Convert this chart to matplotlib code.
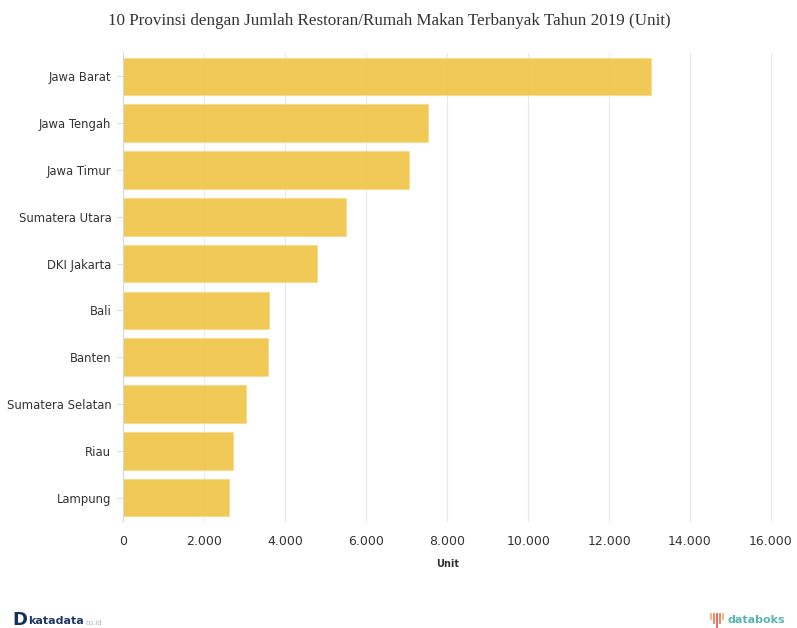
import matplotlib
matplotlib.use("Agg")
import matplotlib.pyplot as plt
from matplotlib.lines import Line2D

provinsi = ["Jawa Barat", "Jawa Tengah", "Jawa Timur", "Sumatera Utara", "DKI Jakarta",
            "Bali", "Banten", "Sumatera Selatan", "Riau", "Lampung"]
jumlah = [13030, 7530, 7060, 5510, 4790, 3610, 3580, 3020, 2720, 2600]
xticks = [0, 2000, 4000, 6000, 8000, 10000, 12000, 14000, 16000]
xlabels = ["0", "2.000", "4.000", "6.000", "8.000", "10.000", "12.000", "14.000", "16.000"]

W, H = 797, 628
fig = plt.figure(figsize=(W / 100, H / 100), dpi=100)
ax = fig.add_axes([123.3 / W, 1 - 521 / H, (771 - 123.3) / W, (521 - 53) / H])

ax.set_axisbelow(True)
ax.barh(range(len(provinsi)), jumlah, height=0.8, color="#f0c445", alpha=0.9,
        edgecolor="#f7dc8e", linewidth=0.8)
ax.set_xlim(0, 16000)
ax.set_ylim(len(provinsi) - 0.5, -0.5)

ax.set_yticks(range(len(provinsi)))
ax.set_yticklabels(provinsi, fontsize=8.4, color="#333333")
ax.set_xticks(xticks)
ax.set_xticklabels(xlabels, fontsize=9, color="#333333")
ax.tick_params(axis="y", length=4.3, width=0.8, color="#dddddd", pad=4.3)
ax.tick_params(axis="x", length=0, pad=10)
ax.grid(axis="x", color="#e8e8e8", linewidth=0.8, clip_on=False)
for s in ["top", "right", "bottom"]:
    ax.spines[s].set_visible(False)
ax.spines["left"].set_color("#d8d8d8")

ax.set_xlabel("Unit", fontsize=7, fontweight="bold", color="#333333", labelpad=8)

fig.text(389.5 / W, 1 - 21 / H, "10 Provinsi dengan Jumlah Restoran/Rumah Makan Terbanyak Tahun 2019 (Unit)",
         family="Liberation Serif", fontsize=12.27, color="#333333", ha="center", va="center")

# katadata logo
fig.text(12.5 / W, 1 - 620 / H, "D", fontsize=13, fontweight="bold", color="#14305f", va="center")
fig.text(28 / W, 1 - 621 / H, "katadata", fontsize=8, fontweight="bold", color="#1f3a68", va="center")
fig.text(86 / W, 1 - 623 / H, "co.id", fontsize=5, color="#a9b2bf", va="center")

# databoks logo
fig.text(727 / W, 1 - 620 / H, "databoks", fontsize=8, fontweight="bold", color="#58b5b0", va="center")
warna = ["#f6b26b", "#ef7d5a", "#e8604f", "#ef7d5a", "#f6b26b"]
for i, (c, h) in enumerate(zip(warna, [5, 9, 14, 9, 5])):
    x = (710.5 + i * 3.2) / W
    fig.add_artist(Line2D([x, x], [1 - 614 / H, 1 - (614 + h) / H], color=c, linewidth=1.3))

fig.savefig("out.png", dpi=100, facecolor="white")
